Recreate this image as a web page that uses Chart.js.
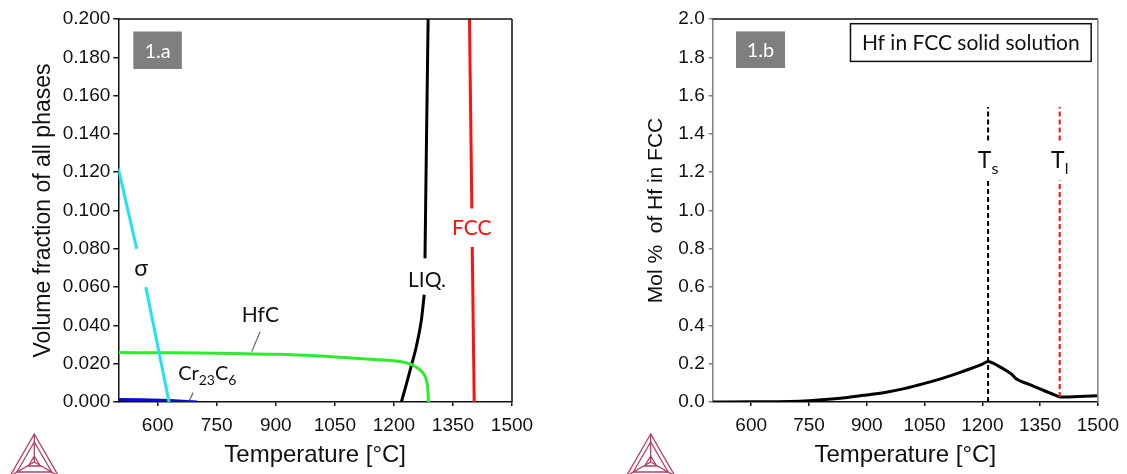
<!DOCTYPE html>
<html>
<head>
<meta charset="utf-8">
<script src="https://cdn.jsdelivr.net/npm/chart.js@4/dist/chart.umd.min.js"></script>
<style>
  html, body { margin: 0; padding: 0; background: #fff; }
  #wrap { position: relative; width: 1127px; height: 474px; overflow: hidden; }
  #phaseChart { position: absolute; left: 0; top: 0; }
  #hfChart { position: absolute; left: 563px; top: 0; }
</style>
</head>
<body>
<div id="wrap">
  <canvas id="phaseChart" width="563" height="474"></canvas>
  <canvas id="hfChart" width="564" height="474"></canvas>
</div>
<script>
/* -------------------------------------------------
   Data
   ------------------------------------------------- */
const tempTicks = [600, 750, 900, 1050, 1200, 1350, 1500];
const fracTicks = [0, 0.02, 0.04, 0.06, 0.08, 0.1, 0.12, 0.14, 0.16, 0.18, 0.2];
const molTicks  = [0, 0.2, 0.4, 0.6, 0.8, 1.0, 1.2, 1.4, 1.6, 1.8, 2.0];

// 1.a  volume fraction of phases (null = gap left for the label)
const sigmaT = [500, 547, 558, 570, 629];
const sigmaV = [0.122, 0.080, null, 0.060, 0];

const hfcT = [500, 600, 700, 800, 900, 1000, 1100, 1150, 1200, 1225, 1245, 1262, 1274, 1281, 1285, 1287, 1288];
const hfcV = [0.0258, 0.0257, 0.0256, 0.0253, 0.0249, 0.0241, 0.0228, 0.0222, 0.0215, 0.0208, 0.0195, 0.0175, 0.0152, 0.0125, 0.009, 0.0045, 0];

const cr23c6T = [500, 560, 630, 700];
const cr23c6V = [0.0013, 0.0012, 0.0008, 0];

const liqT = [1219, 1230, 1243, 1257, 1270, 1277, 1278, 1279, 1283, 1287];
const liqV = [0, 0.008, 0.018, 0.029, 0.043, 0.056, null, 0.075, 0.14, 0.2];

const fccT = [1392, 1398, 1398.5, 1399, 1404];
const fccV = [0.2, 0.101, null, 0.081, 0];

// 1.b  mol % of Hf in FCC
const hfT = [500, 600, 700, 750, 800, 850, 900, 950, 1000, 1050, 1100, 1150, 1200, 1215, 1240, 1265, 1278, 1288, 1320, 1360, 1400, 1402, 1450, 1500];
const hfV = [0, 0.001, 0.003, 0.007, 0.014, 0.024, 0.037, 0.051, 0.071, 0.097, 0.126, 0.160, 0.198, 0.212, 0.19, 0.16, 0.142, 0.121, 0.093, 0.060, 0.027, 0.026, 0.029, 0.033];

const solidusT  = [1215, 1215, 1215, 1215, 1215];
const solidusV  = [0, 1.157, null, 1.365, 1.54];
const liquidusT = [1401, 1401, 1401, 1401, 1401];
const liquidusV = [0.026, 1.157, null, 1.365, 1.54];

/* -------------------------------------------------
   Helpers
   ------------------------------------------------- */
const AXIS_FONT = "'Liberation Sans', Arial, sans-serif";
const NOTE_FONT = "Lato, 'Open Sans', sans-serif";

function pairs(xs, ys) { return xs.map((x, i) => ({ x, y: ys[i] })); }

function lineSet(xs, ys, color, extra) {
  return Object.assign({
    data: pairs(xs, ys),
    borderColor: color,
    borderWidth: 3,
    pointRadius: 0,
    fill: false,
    tension: 0,
  }, extra || {});
}

// draw text made of normal / subscript pieces, centred or left aligned
function drawParts(ctx, parts, x, y, size, subSize, color, align) {
  ctx.fillStyle = color;
  ctx.textBaseline = 'alphabetic';
  ctx.textAlign = 'left';
  let total = 0;
  parts.forEach(p => {
    ctx.font = `${p[1] ? subSize : size}px ${NOTE_FONT}`;
    total += ctx.measureText(p[0]).width;
  });
  let cx = align === 'center' ? x - total / 2 : x;
  parts.forEach(p => {
    ctx.font = `${p[1] ? subSize : size}px ${NOTE_FONT}`;
    ctx.fillText(p[0], cx, p[1] ? y + size * 0.24 : y);
    cx += ctx.measureText(p[0]).width;
  });
}

function drawLogo(ctx, cx, top) {
  const h = 42, half = h * Math.tan(Math.PI / 6);
  const cy = top + h * 2 / 3;
  ctx.save();
  ctx.strokeStyle = '#b83a62';
  ctx.lineWidth = 1.3;
  [0, 4].forEach(inset => {
    ctx.beginPath();
    ctx.moveTo(cx, top + inset * 2);
    ctx.lineTo(cx - half + inset * 1.7, top + h - inset);
    ctx.lineTo(cx + half - inset * 1.7, top + h - inset);
    ctx.closePath();
    ctx.stroke();
  });
  ctx.beginPath();
  ctx.moveTo(cx, top); ctx.lineTo(cx, cy);
  ctx.moveTo(cx - half, top + h); ctx.lineTo(cx, cy);
  ctx.moveTo(cx + half, top + h); ctx.lineTo(cx, cy);
  ctx.moveTo(cx, cy - 6); ctx.lineTo(cx - 6, cy + 4); ctx.lineTo(cx + 6, cy + 4); ctx.closePath();
  ctx.stroke();
  ctx.restore();
}

/* -------------------------------------------------
   Plugin: frame, tag box, labels, leader lines, logo
   ------------------------------------------------- */
const panelDecor = {
  id: 'panelDecor',
  afterDraw(chart, args, o) {
    const { ctx, chartArea: a, scales: { x, y } } = chart;
    ctx.save();

    // top / right frame
    ctx.lineWidth = 1.5;
    ctx.strokeStyle = o.topColor;
    ctx.beginPath(); ctx.moveTo(a.left, a.top); ctx.lineTo(a.right, a.top); ctx.stroke();
    ctx.strokeStyle = o.rightColor;
    ctx.beginPath(); ctx.moveTo(a.right, a.top); ctx.lineTo(a.right, a.bottom); ctx.stroke();

    // grey panel tag
    const t = o.tag;
    ctx.fillStyle = '#7f7f7f';
    ctx.fillRect(a.left + t.dx, a.top + t.dy, t.w, t.h);
    ctx.fillStyle = '#fff';
    ctx.font = `20px ${NOTE_FONT}`;
    ctx.textAlign = 'center';
    ctx.textBaseline = 'middle';
    ctx.fillText(t.text, a.left + t.dx + t.w / 2, a.top + t.dy + t.h / 2 + 1);

    // legend-like box
    if (o.box) {
      const b = o.box;
      const bx = a.right - b.dr - b.w, by = a.top + b.dy;
      ctx.fillStyle = '#fff';
      ctx.fillRect(bx, by, b.w, b.h);
      ctx.strokeStyle = '#111';
      ctx.lineWidth = 1.5;
      ctx.strokeRect(bx, by, b.w, b.h);
      ctx.fillStyle = '#111';
      ctx.font = `${b.size}px ${NOTE_FONT}`;
      ctx.fillText(b.text, bx + b.w / 2, by + b.h / 2 + 1);
    }

    // leader lines
    ctx.strokeStyle = '#666';
    ctx.lineWidth = 1.2;
    (o.leaders || []).forEach(l => {
      ctx.beginPath();
      ctx.moveTo(x.getPixelForValue(l[0]), y.getPixelForValue(l[1]));
      ctx.lineTo(x.getPixelForValue(l[2]), y.getPixelForValue(l[3]));
      ctx.stroke();
    });

    // curve labels
    (o.labels || []).forEach(l => {
      drawParts(ctx, l.parts, x.getPixelForValue(l.x), y.getPixelForValue(l.y),
        l.size, l.subSize || 14, l.color || '#111', l.align || 'center');
    });

    drawLogo(ctx, o.logo[0], o.logo[1]);
    ctx.restore();
  }
};

function tempAxis(borderColor) {
  return {
    type: 'linear', min: 500, max: 1500,
    afterBuildTicks: s => { s.ticks = tempTicks.map(v => ({ value: v })); },
    afterFit: s => { s.height = 72; },
    grid: { drawOnChartArea: false, drawTicks: true, tickLength: 4, color: borderColor, lineWidth: 1.5 },
    border: { color: borderColor, width: 1.5 },
    ticks: { color: '#111', font: { family: AXIS_FONT, size: 19 }, padding: 8, maxRotation: 0, autoSkip: false, callback: v => String(v) },
    title: { display: true, text: 'Temperature [°C]', color: '#111', font: { family: AXIS_FONT, size: 24 }, padding: { top: 0, bottom: 4 } },
  };
}

/* -------------------------------------------------
   Chart 1.a – volume fraction of all phases
   ------------------------------------------------- */
new Chart(document.getElementById('phaseChart'), {
  type: 'line',
  data: {
    datasets: [
      lineSet(sigmaT, sigmaV, '#22e2f2'),
      lineSet(cr23c6T, cr23c6V, '#0a0ad8'),
      lineSet(hfcT, hfcV, '#2fea2f', { cubicInterpolationMode: 'monotone' }),
      lineSet(liqT, liqV, '#000', { cubicInterpolationMode: 'monotone' }),
      lineSet(fccT, fccV, '#ff1010'),
    ],
  },
  options: {
    responsive: false,
    animation: false,
    layout: { padding: { top: 19, right: 51, left: 0, bottom: 0 } },
    plugins: {
      legend: { display: false },
      tooltip: { enabled: false },
      panelDecor: {
        topColor: '#111', rightColor: '#111',
        tag: { text: '1.a', dx: 15, dy: 12.5, w: 48.5, h: 37.5 },
        leaders: [[860, 0.0367, 839, 0.0263], [690, 0.0049, 680, 0.0007]],
        labels: [
          { parts: [['σ', 0]], x: 558, y: 0.066, size: 23 },
          { parts: [['HfC', 0]], x: 861, y: 0.042, size: 21 },
          { parts: [['Cr', 0], ['23', 1], ['C', 0], ['6', 1]], x: 652, y: 0.0115, size: 20, subSize: 14, align: 'left' },
          { parts: [['LIQ.', 0]], x: 1284, y: 0.060, size: 21 },
          { parts: [['FCC', 0]], x: 1398, y: 0.087, size: 21, color: '#ff1010' },
        ],
        logo: [34.3, 434],
      },
    },
    scales: {
      x: tempAxis('#111'),
      y: {
        type: 'linear', min: 0, max: 0.2,
        afterBuildTicks: s => { s.ticks = fracTicks.map(v => ({ value: v })); },
        afterFit: s => { s.width = 118.3; },
        grid: { drawOnChartArea: false, drawTicks: true, tickLength: 5, color: '#111', lineWidth: 1.5 },
        border: { color: '#111', width: 1.5 },
        ticks: { color: '#111', font: { family: AXIS_FONT, size: 19 }, padding: 3, callback: v => v.toFixed(3) },
        title: { display: true, text: 'Volume fraction of all phases', color: '#111', font: { family: AXIS_FONT, size: 23 }, padding: { top: 30, bottom: 0 } },
      },
    },
  },
  plugins: [panelDecor],
});

/* -------------------------------------------------
   Chart 1.b – Hf in FCC solid solution
   ------------------------------------------------- */
new Chart(document.getElementById('hfChart'), {
  type: 'line',
  data: {
    datasets: [
      lineSet(solidusT, solidusV, '#000', { borderWidth: 2, borderDash: [5, 3] }),
      lineSet(liquidusT, liquidusV, '#ff1010', { borderWidth: 2, borderDash: [5, 3] }),
      lineSet(hfT, hfV, '#000', { cubicInterpolationMode: 'monotone' }),
    ],
  },
  options: {
    responsive: false,
    animation: false,
    layout: { padding: { top: 19, right: 20.3, left: 0, bottom: 0 } },
    plugins: {
      legend: { display: false },
      tooltip: { enabled: false },
      panelDecor: {
        topColor: '#111', rightColor: '#808080',
        tag: { text: '1.b', dx: 23.3, dy: 12.4, w: 49, h: 36.6 },
        box: { text: 'Hf in FCC solid solution', dr: 6.7, dy: 4.7, w: 240.7, h: 37.7, size: 21 },
        labels: [
          { parts: [['T', 0], ['s', 1]], x: 1215, y: 1.22, size: 23, subSize: 16 },
          { parts: [['T', 0], ['l', 1]], x: 1401, y: 1.22, size: 23, subSize: 16 },
        ],
        logo: [87.7, 434],
      },
    },
    scales: {
      x: tempAxis('#111'),
      y: {
        type: 'linear', min: 0, max: 2,
        afterBuildTicks: s => { s.ticks = molTicks.map(v => ({ value: v })); },
        afterFit: s => { s.width = 149.7; },
        grid: { drawOnChartArea: false, drawTicks: true, tickLength: 4, color: '#808080', lineWidth: 1.5 },
        border: { color: '#808080', width: 1.5 },
        ticks: { color: '#111', font: { family: AXIS_FONT, size: 19 }, padding: 4, callback: v => v.toFixed(1) },
        title: { display: true, text: 'Mol %  of Hf in FCC', color: '#111', font: { family: AXIS_FONT, size: 21 }, padding: { top: 81, bottom: 0 } },
      },
    },
  },
  plugins: [panelDecor],
});
</script>
</body>
</html>
